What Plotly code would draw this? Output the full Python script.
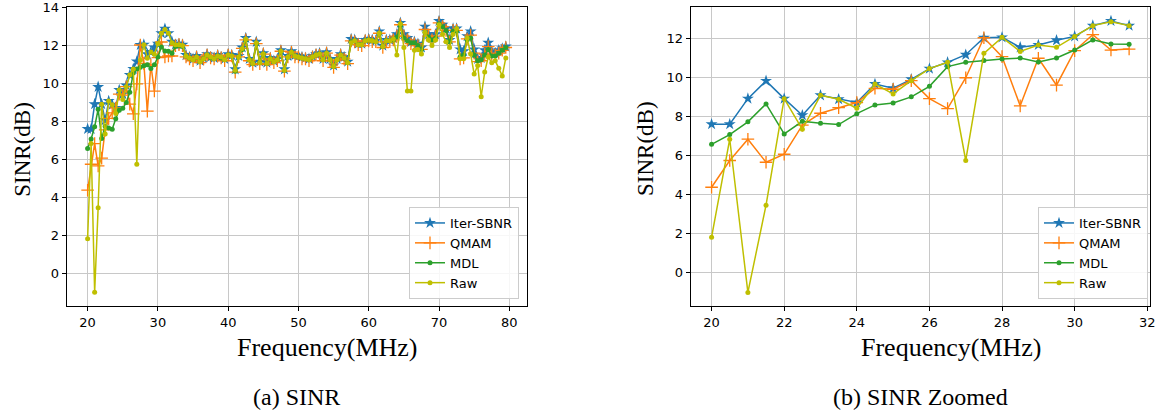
import numpy as np
import plotly.graph_objects as go

# Frequency grid (MHz), 0.5 MHz steps
freq = np.arange(20.0, 80.0, 0.5)

iter_sbnr = [
    7.60, 7.60, 8.91, 9.82, 8.91, 8.06, 9.08, 8.88, 8.71, 9.66,
    9.44, 9.90, 10.45, 10.77, 11.16, 12.03, 12.05, 11.54, 11.66, 11.90,
    12.10, 12.65, 12.89, 12.65,
    12.20, 12.05, 12.10, 12.05, 11.50, 11.40, 11.30, 11.45, 11.20, 11.35,
    11.55, 11.40, 11.35, 11.50, 11.40, 11.30, 11.55, 11.50, 10.75, 11.45,
    11.90, 12.40, 11.30, 11.10, 12.20, 11.15, 11.60, 11.10, 11.35, 11.20,
    11.30, 11.75, 10.75, 11.45, 11.70, 11.50, 11.45, 11.40, 11.35, 11.30,
    11.45, 11.55, 11.60, 11.30, 11.65, 11.30, 10.95, 11.30, 11.55, 11.40,
    11.15, 12.35, 12.30, 12.10, 12.10, 12.30, 12.35, 12.30, 12.25, 12.75,
    12.00, 12.30, 12.30, 12.40, 12.60, 13.20, 12.60, 12.40, 12.20, 12.20,
    12.10, 11.90, 13.00, 12.60, 12.40, 12.60, 13.30, 13.10, 12.90, 12.30,
    12.90, 12.90, 11.80, 11.70, 12.50, 12.75, 11.80, 11.30, 11.35, 11.75,
    12.15, 11.70, 11.60, 11.75, 11.85, 11.95,
]

qmam = [
    4.37, 5.74, 6.83, 5.65, 6.06, 7.55, 8.16, 8.45, 8.71, 9.44,
    9.39, 9.83, 8.91, 8.40, 9.98, 12.03, 11.06, 8.54, 10.98, 9.60,
    11.37, 12.19, 11.40, 11.45,
    11.45, 12.00, 12.05, 12.00, 11.40, 11.30, 11.20, 11.40, 11.10, 11.30,
    11.50, 11.35, 11.30, 11.45, 11.35, 11.20, 11.50, 11.45, 10.60, 11.40,
    11.85, 12.30, 11.20, 11.00, 12.10, 11.05, 11.55, 11.00, 11.30, 11.10,
    11.20, 11.70, 10.65, 11.40, 11.65, 11.40, 11.40, 11.30, 11.30, 11.20,
    11.40, 11.50, 11.50, 11.20, 11.60, 11.20, 10.85, 11.25, 11.50, 11.30,
    11.05, 12.25, 12.20, 12.05, 12.00, 12.25, 12.25, 12.20, 12.20, 12.65,
    11.90, 12.20, 12.20, 12.30, 12.50, 13.10, 12.50, 12.30, 12.10, 12.10,
    12.00, 11.80, 12.85, 12.50, 12.30, 12.50, 13.20, 13.00, 12.80, 12.20,
    12.80, 12.80, 11.30, 11.35, 12.35, 12.55, 11.60, 11.15, 11.20, 11.55,
    11.95, 11.55, 11.50, 11.60, 11.75, 11.90,
]

mdl = [
    6.57, 7.07, 7.72, 8.64, 7.10, 7.75, 7.65, 7.58, 8.14, 8.59,
    8.69, 9.00, 9.54, 10.55, 10.77, 10.86, 10.94, 10.99, 10.79, 10.99,
    11.40, 11.92, 11.71, 11.70,
    11.60, 11.95, 12.00, 11.95, 11.45, 11.35, 11.25, 11.40, 11.15, 11.30,
    11.50, 11.35, 11.30, 11.45, 11.35, 11.25, 11.50, 11.45, 10.65, 11.40,
    11.80, 12.30, 11.25, 11.05, 12.10, 11.10, 11.55, 11.05, 11.30, 11.15,
    11.25, 11.70, 10.70, 11.40, 11.65, 11.45, 11.40, 11.35, 11.30, 11.25,
    11.40, 11.50, 11.55, 11.25, 11.60, 11.25, 10.90, 11.25, 11.50, 11.35,
    11.10, 12.20, 12.25, 12.05, 12.05, 12.25, 12.30, 12.25, 12.20, 12.65,
    11.95, 12.25, 12.25, 12.30, 12.45, 13.05, 12.40, 12.25, 12.15, 12.15,
    12.00, 11.80, 12.70, 12.45, 12.30, 12.40, 13.15, 13.00, 12.80, 12.20,
    12.75, 12.75, 11.40, 11.50, 12.30, 12.40, 11.50, 11.20, 11.25, 11.50,
    11.80, 11.45, 11.45, 11.60, 11.75, 11.90,
]

raw = [
    1.81, 6.83, -1.02, 3.45, 8.91, 7.34, 9.08, 8.88, 8.42, 9.66,
    9.15, 9.83, 10.45, 10.77, 5.74, 11.23, 12.05, 11.33, 11.66, 11.54,
    12.10, 12.65, 12.85, 12.65,
    12.15, 12.05, 12.05, 12.00, 11.45, 11.35, 11.25, 11.40, 11.15, 11.30,
    11.50, 11.40, 11.30, 11.45, 11.40, 11.25, 11.50, 11.45, 10.70, 11.40,
    11.85, 12.35, 11.25, 11.05, 12.15, 11.10, 11.55, 11.05, 11.30, 11.15,
    11.25, 11.70, 10.70, 11.40, 11.65, 11.45, 11.40, 11.35, 11.30, 11.25,
    11.40, 11.50, 11.55, 11.25, 11.60, 11.25, 10.90, 11.25, 11.50, 11.35,
    11.10, 12.15, 12.25, 12.05, 12.05, 12.25, 12.30, 12.25, 12.20, 12.65,
    11.95, 12.25, 12.25, 12.35, 11.50, 13.15, 11.90, 9.60, 9.60, 11.75,
    11.80, 11.55, 12.70, 12.30, 12.00, 12.30, 13.10, 12.60, 12.20, 11.90,
    12.60, 12.90, 11.30, 11.30, 12.40, 11.55, 10.50, 10.95, 9.30, 10.60,
    11.40, 11.10, 11.20, 10.80, 10.40, 11.35,
]

zoom_end = 24  # samples 20.0 .. 31.5 MHz

series = [
    ("Iter-SBNR", iter_sbnr, "#1f77b4", dict(symbol="star", size=9)),
    ("QMAM", qmam, "#ff7f0e", dict(symbol="cross-thin", size=9,
                                  line=dict(width=1.3, color="#ff7f0e"))),
    ("MDL", mdl, "#2ca02c", dict(symbol="circle", size=5)),
    ("Raw", raw, "#bfbf00", dict(symbol="circle", size=5)),
]

fig = go.Figure()
for name, vals, color, mk in series:
    fig.add_trace(go.Scatter(
        x=freq, y=vals, name=name, mode="lines+markers",
        line=dict(color=color, width=1.5), marker=dict(color=color, **mk),
        xaxis="x", yaxis="y", legend="legend",
    ))
for name, vals, color, mk in series:
    fig.add_trace(go.Scatter(
        x=freq[:zoom_end], y=vals[:zoom_end], name=name, mode="lines+markers",
        line=dict(color=color, width=1.5), marker=dict(color=color, **mk),
        xaxis="x2", yaxis="y2", legend="legend2",
    ))

W, H = 1158, 410
serif = "Liberation Serif, Times New Roman, serif"
sans = "DejaVu Sans, sans-serif"

axis_common = dict(
    showline=True, mirror=True, linecolor="black", linewidth=1,
    ticks="outside", ticklen=4, tickcolor="black", tickwidth=1,
    showgrid=True, gridcolor="#c8c8c8", gridwidth=1, zeroline=False,
    automargin=False,
    tickfont=dict(family=sans, size=13, color="black"),
)

left_dom = [66.7 / W, 526.7 / W]
right_dom = [690.7 / W, 1150 / W]
y_dom = [(H - 306) / H, (H - 7.3) / H]

legend_common = dict(
    bgcolor="rgba(255,255,255,0.85)", bordercolor="#cccccc", borderwidth=1,
    font=dict(family=sans, size=13, color="black"),
    xanchor="right", yanchor="bottom", tracegroupgap=0, itemwidth=30,
)

fig.update_layout(
    width=W, height=H, margin=dict(l=0, r=0, t=0, b=0, autoexpand=False),
    paper_bgcolor="white", plot_bgcolor="white",
    xaxis=dict(domain=left_dom, range=[17.025, 82.475],
               tickvals=[20, 30, 40, 50, 60, 70, 80], anchor="y", **axis_common),
    yaxis=dict(domain=y_dom, range=[-1.74, 14.02],
               tickvals=[0, 2, 4, 6, 8, 10, 12, 14], anchor="x", **axis_common),
    xaxis2=dict(domain=right_dom, range=[19.425, 32.075],
                tickvals=[20, 22, 24, 26, 28, 30, 32], anchor="y2", **axis_common),
    yaxis2=dict(domain=y_dom, range=[-1.716, 13.59],
                tickvals=[0, 2, 4, 6, 8, 10, 12], anchor="x2", **axis_common),
    legend=dict(x=519 / W, y=(H - 299) / H, **legend_common),
    legend2=dict(x=1148 / W, y=(H - 299) / H, **legend_common),
)

# Axis titles and sub-captions (pixel positions converted to paper coords)
annos = [
    (327, 347, "Frequency(MHz)", 26),
    (951, 347, "Frequency(MHz)", 26),
    ((left_dom[0] + left_dom[1]) / 2 * W, 397, "(a) SINR", 24),
    ((right_dom[0] + right_dom[1]) / 2 * W, 397, "(b) SINR Zoomed", 24),
]
for xpx, ypx, text, size in annos:
    fig.add_annotation(x=xpx / W, y=(H - ypx) / H, xref="paper", yref="paper",
                       text=text, showarrow=False, xanchor="center", yanchor="middle",
                       font=dict(family=serif, size=size, color="black"))

for xpx in (21.7, 645.0):
    fig.add_annotation(x=xpx / W, y=(H - 149) / H, xref="paper", yref="paper",
                       text="SINR(dB)", showarrow=False, textangle=-90,
                       xanchor="center", yanchor="middle",
                       font=dict(family=serif, size=23, color="black"))

fig.write_html("out.html")
